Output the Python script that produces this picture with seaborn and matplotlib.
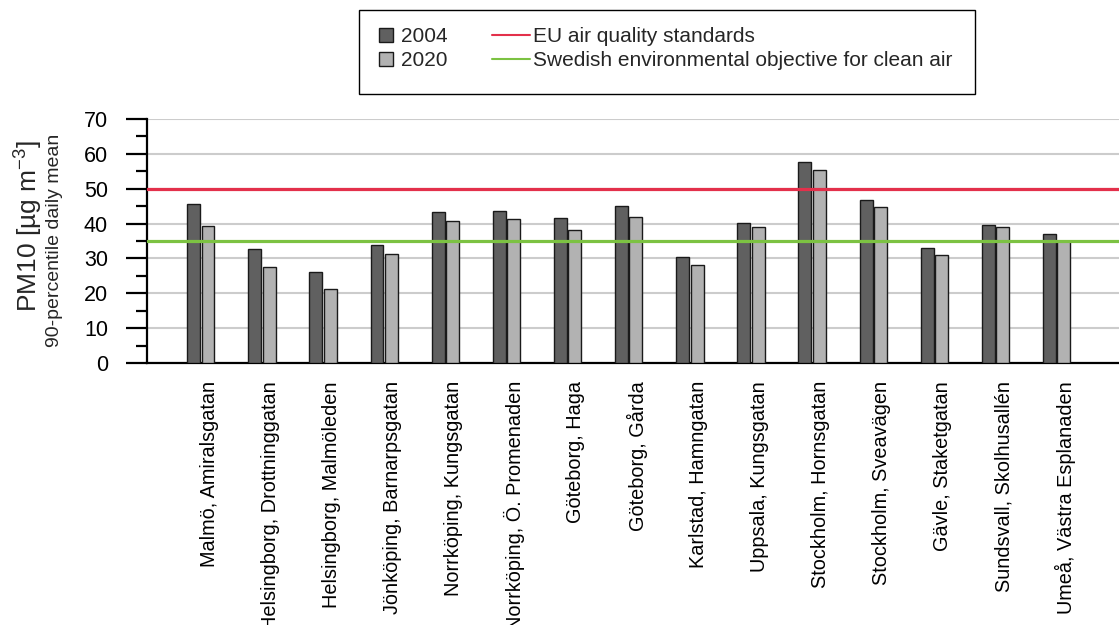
import pandas as pd
import matplotlib
matplotlib.use("Agg")
import matplotlib.pyplot as plt
import matplotlib.ticker as mticker
from matplotlib.lines import Line2D
from matplotlib.patches import Rectangle
from matplotlib.transforms import ScaledTranslation
import seaborn as sns

# -----------------------------------------------------------------------------
# Data
# -----------------------------------------------------------------------------
stations = [
    "Malmö, Amiralsgatan", "Helsingborg, Drottninggatan", "Helsingborg, Malmöleden",
    "Jönköping, Barnarpsgatan", "Norrköping, Kungsgatan", "Norrköping, Ö. Promenaden",
    "Göteborg, Haga", "Göteborg, Gårda", "Karlstad, Hamngatan", "Uppsala, Kungsgatan",
    "Stockholm, Hornsgatan", "Stockholm, Sveavägen", "Gävle, Staketgatan",
    "Sundsvall, Skolhusallén", "Umeå, Västra Esplanaden",
]
pm10_2004 = [45.7, 32.8, 26.1, 33.9, 43.4, 43.7, 41.5, 45.1, 30.3, 40.2, 57.6, 46.7, 32.9, 39.5, 37.0]
pm10_2020 = [39.4, 27.5, 21.1, 31.4, 40.7, 41.4, 38.2, 41.8, 28.0, 39.1, 55.5, 44.8, 30.9, 38.9, 35.0]
years = ["2004", "2020"]
eu_limit = 50
swedish_objective = 35

df = pd.DataFrame({
    "station": stations * 2,
    "year": [years[0]] * len(stations) + [years[1]] * len(stations),
    "pm10": pm10_2004 + pm10_2020,
})

# -----------------------------------------------------------------------------
# Plotting attributes
# -----------------------------------------------------------------------------
sns.set_theme(style="ticks")
plt.rcParams["font.family"] = ["Liberation Sans", "DejaVu Sans"]
plt.rcParams["mathtext.default"] = "regular"

bar_colors = {"2004": "#606060", "2020": "#b2b2b2"}
red = "#e3304b"
green = "#7cc242"
W, H = 1119, 625

fig = plt.figure(figsize=(W / 100, H / 100), dpi=100)
ax = fig.add_axes([147 / W, 1 - 363 / H, 1 - 147 / W, (363 - 119) / H])

sns.barplot(data=df, x="station", y="pm10", hue="year", palette=bar_colors,
            width=0.47, gap=0.1, edgecolor="#1a1a1a", linewidth=1.0,
            legend=False, ax=ax, zorder=3)

ax.axhline(eu_limit, color=red, lw=2.3, zorder=5)
ax.axhline(swedish_objective, color=green, lw=2.3, zorder=5)

ax.set(xlabel=None, ylabel=None, ylim=(0, 70), xlim=(-0.88, 15.02))
ax.yaxis.set_major_locator(mticker.MultipleLocator(10))
ax.yaxis.set_minor_locator(mticker.MultipleLocator(5))
ax.grid(axis="y", color="#cccccc", lw=1.5, zorder=0)
ax.set_axisbelow(True)

for s in ["top", "right"]:
    ax.spines[s].set_visible(False)
for s in ["left", "bottom"]:
    ax.spines[s].set_linewidth(1.6)
    ax.spines[s].set_color("black")

ax.tick_params(axis="y", which="major", length=15, width=1.6, pad=13, labelsize=15.5, colors="black")
ax.tick_params(axis="y", which="minor", length=8, width=1.6, colors="black")
ax.tick_params(axis="x", length=0, pad=13, labelsize=14.3, colors="black")
ax.set_xticks(range(len(stations)))
ax.set_xticklabels(stations, rotation=90, ha="center", va="top")
for lbl in ax.get_xticklabels():
    lbl.set_transform(lbl.get_transform() + ScaledTranslation(6 / 72, 0, fig.dpi_scale_trans))

# Y axis label in two sizes
fig.text(29 / W, 1 - 226 / H, r"PM10 [µg m$^{-3}$]", rotation=90,
         ha="center", va="center", fontsize=19)
fig.text(55 / W, 1 - 240 / H, "90-percentile daily mean", rotation=90,
         ha="center", va="center", fontsize=14)

# Legend: two frameless legends inside one drawn box
fig.patches.append(Rectangle((359 / W, 1 - 94 / H), (975 - 359) / W, 84 / H,
                             transform=fig.transFigure, fill=True, facecolor="white",
                             edgecolor="black", lw=1.0, zorder=1))
bar_handles = [
    Line2D([], [], marker="s", ls="none", ms=10.5, mfc=bar_colors[y], mec="#1a1a1a", mew=1)
    for y in years
]
line_handles = [Line2D([], [], color=red, lw=1.5), Line2D([], [], color=green, lw=1.5)]
line_labels = ["EU air quality standards", "Swedish environmental objective for clean air"]

leg1 = fig.legend(bar_handles, years, loc="upper left", bbox_to_anchor=(377 / W, 1 - 27 / H),
                  fontsize=15, frameon=False, handlelength=0.9, handletextpad=0.25,
                  labelspacing=0.25, borderpad=0, borderaxespad=0)
leg2 = fig.legend(line_handles, line_labels, loc="upper left", bbox_to_anchor=(492 / W, 1 - 27 / H),
                  fontsize=15, frameon=False, handlelength=1.8, handletextpad=0.15,
                  labelspacing=0.25, borderpad=0, borderaxespad=0)
leg1.set_zorder(2)
leg2.set_zorder(2)

plt.savefig("out.png", dpi=100)
